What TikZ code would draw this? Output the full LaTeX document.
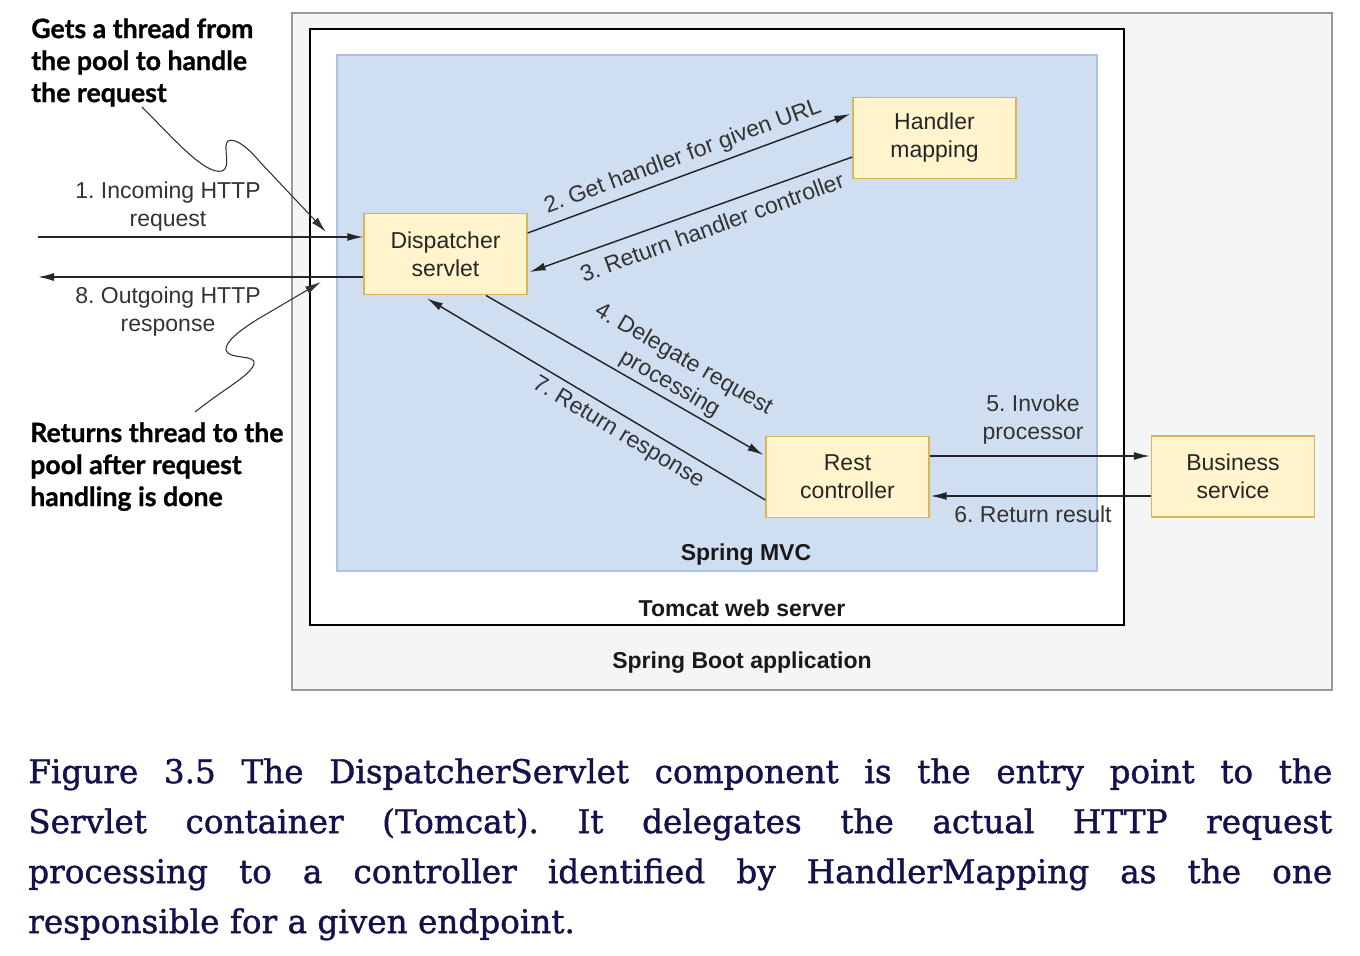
\documentclass[tikz,border=0pt]{standalone}
\usepackage{fontspec}
\setmainfont{Liberation Sans}
\newfontfamily\annfont[BoldFeatures={FakeBold=0.8}]{Lato}
\newfontfamily\capfont[FakeBold=1.2]{DejaVu Serif}
\usetikzlibrary{arrows.meta,calc}
\definecolor{bootfill}{HTML}{F4F5F7}
\definecolor{bootdraw}{HTML}{9A9A9A}
\definecolor{mvcfill}{HTML}{D0DEF1}
\definecolor{mvcdraw}{HTML}{A9C2E6}
\definecolor{boxfill}{HTML}{FFF4CC}
\definecolor{boxdraw}{HTML}{D6B656}
\definecolor{labelcol}{HTML}{333333}
\definecolor{capcol}{HTML}{12124C}
\frenchspacing
\begin{document}
\begin{tikzpicture}[x=0.75pt,y=-0.75pt,
 comp/.style={draw=boxdraw, fill=boxfill, line width=1.2pt, minimum width=122pt, minimum height=61pt, inner sep=0pt, align=center, font=\fontsize{17.25}{21}\selectfont, text=black!85},
 flow/.style={draw=black!85, line width=1.1pt, -{Latex[length=12pt,width=6pt]}},
 lbl/.style={font=\fontsize{17.25}{21}\selectfont, text=labelcol, align=center, inner sep=0pt},
 title/.style={font=\fontsize{17.25}{21}\selectfont\bfseries, text=black!90, inner sep=0pt},
 note/.style={font=\annfont\bfseries\fontsize{20}{24}\selectfont, align=left, inner sep=0pt, anchor=north west},
 squig/.style={draw=black!80, line width=0.8pt, -{Latex[length=12pt,width=6pt]}}
]
\fill[white] (0,0) rectangle (1360,956);
\useasboundingbox (0,0) rectangle (1360,956);

% containers
\draw[bootdraw, fill=bootfill, line width=1.5pt] (292,13) rectangle (1332,690);
\draw[black, fill=white, line width=1.5pt] (310,29) rectangle (1124,625);
\draw[mvcdraw, fill=mvcfill, line width=1.2pt] (337,55) rectangle (1097,571);

\node[title] (mvct) at (746,555) {Spring MVC};
\node[title] (tomt) at (742,608) {Tomcat web server};
\node[title] (boott) at (742,663) {Spring Boot application};

% components
\node[comp] (disp) at (445.5,254) {Dispatcher\\servlet};
\node[comp] (hm) at (934.5,138) {Handler\\mapping};
\node[comp] (rest) at (847.5,477) {Rest\\controller};
\node[comp] (bus) at (1233,476.5) {Business\\service};

% flows
\coordinate (inL) at (38,237);
\coordinate (outL) at (38,277);
\draw[flow] (inL) -- ($(disp.west)+(0,-17)$);
\draw[flow] ($(disp.west)+(0,23)$) -- (outL);
\draw[flow] ($(disp.east)+(0,-21)$) -- ($(hm.west)+(-2,-24)$);
\draw[flow] ($(hm.west)+(0,19)$) -- ($(disp.east)+(2,18)$);
\draw[flow] ($(disp.south)+(40.5,0)$) -- ($(rest.west)+(-2,-22)$);
\draw[flow] ($(rest.west)+(0,23)$) -- ($(disp.south)+(-18.5,3)$);
\draw[flow] ($(rest.east)+(0,-21)$) -- ($(bus.west)+(-1,-20.5)$);
\draw[flow] ($(bus.west)+(0,19.5)$) -- ($(rest.east)+(1,19)$);

% labels
\node[lbl] at (168,207) {1. Incoming HTTP\\request};
\node[lbl] at (168,312) {8. Outgoing HTTP\\response};
\node[lbl, rotate=20.2] at (683,157) {2. Get handler for given URL};
\node[lbl, rotate=20] at (712,227) {3. Return handler controller};
\node[lbl, rotate=-30] at (676.5,372) {4. Delegate request\\processing};
\node[lbl, rotate=-31] at (618,433) {7. Return response};
\node[lbl] at (1033,420) {5. Invoke\\processor};
\node[lbl] at (1033,514) {6. Return result};

% notes
\node[note] (n1) at (31,18) {Gets a thread from\\the pool to handle\\the request};
\node[note] (n2) at (30,422) {Returns thread to the\\pool after request\\handling is done};
\coordinate (s1) at (142,107);
\coordinate (e1) at (326,232);
\draw[squig] (s1) .. controls (175,140) and (205,175) .. (222,171) .. controls (232,168) and (222,145) .. (228,141) .. controls (236,137) and (250,150) .. (260,162) -- (e1);
\coordinate (s2) at (195,412);
\coordinate (e2) at (321,282);
\draw[squig] (s2) .. controls (225,388) and (250,376) .. (254,364) .. controls (257,354) and (228,360) .. (226,350) .. controls (225,342) and (240,330) .. (258,319) -- (e2);

% caption
\node[anchor=north west, inner sep=0pt, align=left, text=capcol, font=\capfont\fontsize{24.5}{37.5}\selectfont] (cap) at (28,758) {\makebox[978pt][s]{Figure 3.5 The DispatcherServlet component is the entry point to the}\\
\makebox[978pt][s]{Servlet container (Tomcat). It delegates the actual HTTP request}\\
\makebox[978pt][s]{processing to a controller identified by HandlerMapping as the one}\\
responsible for a given endpoint.};
\end{tikzpicture}
\end{document}
